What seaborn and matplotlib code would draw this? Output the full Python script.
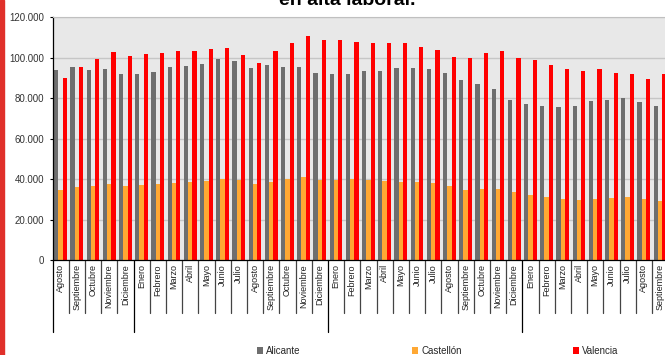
import numpy as np
import pandas as pd
import seaborn as sns
import matplotlib.pyplot as plt
import matplotlib.transforms as mtransforms
from matplotlib.patches import Patch, Rectangle
from matplotlib.ticker import FuncFormatter

# meses (ago año 1 -> sep año 4)
months = (["Agosto", "Septiembre", "Octubre", "Noviembre", "Diciembre"]
          + ["Enero", "Febrero", "Marzo", "Abril", "Mayo", "Junio", "Julio",
             "Agosto", "Septiembre", "Octubre", "Noviembre", "Diciembre"] * 2
          + ["Enero", "Febrero", "Marzo", "Abril", "Mayo", "Junio", "Julio",
             "Agosto", "Septiembre"])
year_starts = [0, 5, 17, 29]

alicante = [94100, 95600, 94100, 94600, 92100, 92100, 93100, 95600, 96100, 97100,
            99600, 98600, 95100, 96600, 95600, 95600, 92600, 92100, 92100, 93600,
            93600, 95100, 95100, 94600, 92600, 89100, 87100, 84600, 79200, 77200,
            76200, 75700, 76200, 78700, 79200, 80200, 78200, 76200]
castellon = [34600, 36100, 36600, 37600, 36600, 37100, 37600, 38100, 38600, 39100,
             40100, 39600, 37600, 38600, 40100, 41100, 39800, 39600, 40100, 39600,
             39100, 38600, 38600, 38100, 36600, 34600, 35100, 35100, 33600, 32100,
             31100, 30100, 29600, 30100, 30600, 31100, 30100, 29100]
valencia = [90100, 95600, 99600, 103000, 101000, 102000, 102500, 103500, 103500, 104500,
            105000, 101500, 97600, 103500, 107500, 111000, 109000, 109000, 108000, 107500,
            107500, 107500, 105500, 104000, 100500, 100000, 102500, 103500, 100000, 99100,
            96600, 94600, 93600, 94600, 92600, 92100, 89600, 92100]

series = ["Alicante", "Castellón", "Valencia"]
colors = ["#6e6e6e", "#ffa833", "#ff0000"]

n = len(months)
df = pd.DataFrame({
    "pos": list(range(n)) * 3,
    "valor": alicante + castellon + valencia,
    "provincia": [s for s in series for _ in range(n)],
})

sns.set_style("white")
plt.rcParams["font.family"] = ["Liberation Sans", "DejaVu Sans"]

fig = plt.figure(figsize=(6.65, 3.55), dpi=100)
ax = fig.add_axes([52.5 / 665, 1 - 260 / 355, 615.6 / 665, 242.7 / 355])

sns.barplot(data=df, x="pos", y="valor", hue="provincia", hue_order=series,
            palette=colors, saturation=1, width=0.8, legend=False, ax=ax,
            linewidth=0, edgecolor="none")

ax.set_facecolor("#e8e8e8")
ax.set_ylim(0, 120000)
ax.set_xlim(-0.5, n - 0.5)
ax.set_yticks(np.arange(0, 120001, 20000))
ax.yaxis.set_major_formatter(FuncFormatter(lambda v, p: f"{v:,.0f}".replace(",", ".")))
ax.yaxis.grid(True, color="#c6c6c6", lw=1)
ax.set_axisbelow(True)
ax.set_xlabel("")
ax.set_ylabel("")

ax.set_xticks(range(n))
ax.set_xticklabels(months, rotation=90, fontsize=6.5, color="#222222")
ax.tick_params(axis="x", length=0, pad=3)
ax.tick_params(axis="y", length=2.5, width=0.8, color="black", labelsize=7,
               labelcolor="#333333", pad=3.5, left=True)

for side in ["left", "bottom"]:
    ax.spines[side].set_color("black")
    ax.spines[side].set_linewidth(0.9)
ax.spines["top"].set_color("#c0c0c0")
ax.spines["right"].set_visible(False)

# separadores de categorías bajo el eje
trans = mtransforms.blended_transform_factory(ax.transData, ax.transAxes)
for i in range(n + 1):
    depth = -0.297 if i in year_starts else -0.218
    col = "black" if i in year_starts else "#444444"
    ax.plot([i - 0.5, i - 0.5], [0, depth], transform=trans, clip_on=False,
            color=col, lw=0.9)

# título (cortado arriba, como en el original)
fig.text(347 / 665, 1 - 5 / 355, "en alta laboral.", ha="center", va="baseline",
         fontsize=14, fontweight="bold", color="black")

# barra roja lateral
fig.patches.append(Rectangle((0, 0), 3.5 / 665, 1, transform=fig.transFigure,
                             color="#e0302a", zorder=5))

handles = [Patch(facecolor=c, edgecolor="none") for c in colors]
fig.legend(handles, series, loc="center", bbox_to_anchor=(438 / 665, 4 / 355),
           ncol=3, frameon=False, fontsize=7, handlelength=0.6, handleheight=0.6,
           handletextpad=0.3, columnspacing=11.5, borderpad=0)

fig.savefig("out.png", dpi=100)
